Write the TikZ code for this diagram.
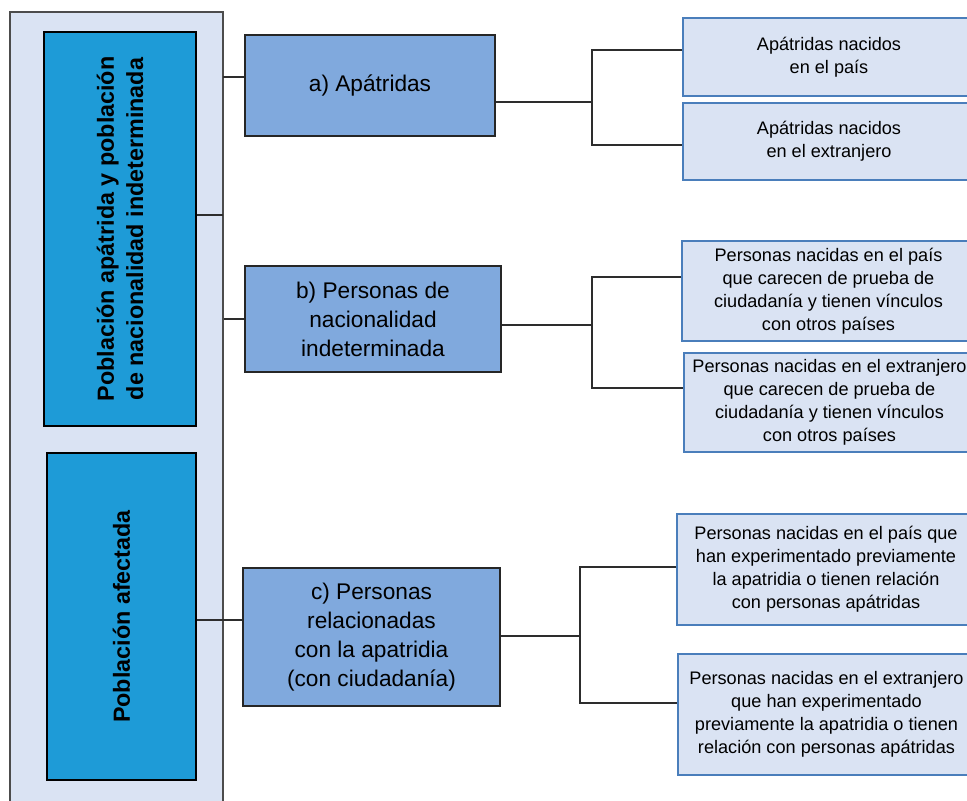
\documentclass[tikz,border=0pt]{standalone}
\usepackage{fontspec}
\setmainfont{Liberation Sans}
\definecolor{panelfill}{RGB}{218,227,243}
\definecolor{popfill}{RGB}{30,155,215}
\definecolor{midfill}{RGB}{128,169,221}
\definecolor{leafdraw}{RGB}{74,126,187}
\definecolor{linkgray}{RGB}{45,45,45}
\tikzset{
  popbox/.style={draw=black,line width=1pt,fill=popfill,rotate=90,inner sep=1pt,
    align=center,font=\bfseries\fontsize{17.5}{22}\selectfont},
  midbox/.style={draw=black!85,line width=1.1pt,fill=midfill,inner sep=1pt,
    align=center,font=\fontsize{17}{21.75}\selectfont},
  leafbox/.style={draw=leafdraw,line width=1.1pt,fill=panelfill,inner sep=1pt,
    align=center,font=\fontsize{13.6}{17.25}\selectfont},
  link/.style={draw=linkgray,line width=1.5pt}
}
\begin{document}
\begin{tikzpicture}[x=0.75pt,y=-0.75pt]
  \useasboundingbox (0,0) rectangle (967,800);
  \clip (0,0) rectangle (967,800);
  % left panel
  \node[draw=black!70,line width=1pt,fill=panelfill,minimum width=159.75pt,minimum height=606pt] (panel) at (116.5,416) {};
  \node[popbox,minimum width=295.5pt,minimum height=114pt] (pop1) at (120,229)
    {Población apátrida y población\\de nacionalidad indeterminada};
  \node[popbox,minimum width=245.25pt,minimum height=111.75pt] (pop2) at (121.5,616.5)
    {Población afectada};
  % middle
  \node[midbox,minimum width=187.5pt,minimum height=75.75pt] (apat) at (370,85.5) {a) Apátridas};
  \node[midbox,minimum width=192pt,minimum height=79.5pt] (indet) at (373,319)
    {b) Personas de\\nacionalidad\\indeterminada};
  \node[midbox,minimum width=192.75pt,minimum height=103.5pt] (relac) at (371.5,637)
    {c) Personas\\relacionadas\\con la apatridia\\(con ciudadanía)};
  % right
  \node[leafbox,minimum width=219pt,minimum height=58.5pt] (apat1) at (829,57)
    {Apátridas nacidos\\en el país};
  \node[leafbox,minimum width=219pt,minimum height=57.75pt] (apat2) at (829,141.5)
    {Apátridas nacidos\\en el extranjero};
  \node[leafbox,minimum width=219.75pt,minimum height=75pt] (indet1) at (828.5,291)
    {Personas nacidas en el país\\que carecen de prueba de\\ciudadanía y tienen vínculos\\con otros países};
  \node[leafbox,minimum width=218.25pt,minimum height=74.25pt] (indet2) at (829.5,402.5)
    {Personas nacidas en el extranjero\\que carecen de prueba de\\ciudadanía y tienen vínculos\\con otros países};
  \node[leafbox,minimum width=223.5pt,minimum height=83.25pt] (relac1) at (826,569.5)
    {Personas nacidas en el país que\\han experimentado previamente\\la apatridia o tienen relación\\con personas apátridas};
  \node[leafbox,minimum width=222.75pt,minimum height=90.75pt] (relac2) at (826.5,714.5)
    {Personas nacidas en el extranjero\\que han experimentado\\previamente la apatridia o tienen\\relación con personas apátridas};
  % joints
  \coordinate (ta) at (223,77);
  \coordinate (tp) at (223,215);
  \coordinate (tc) at (223,620);
  \coordinate (fa) at (592,102);
  \coordinate (fb) at (592,325);
  \coordinate (fc) at (580,636);
  % links
  \draw[link] (pop1.south |- tp) -- (tp);
  \draw[link] (ta) -- (apat.west |- ta);
  \draw[link] (panel.east |- indet.west) -- (indet.west);
  \draw[link] (pop2.south |- tc) -- (relac.west |- tc);
  \draw[link] (apat.east |- fa) -- (fa);
  \draw[link] ([yshift=5.25pt]apat1.west) -| (fa) |- ([yshift=-2.6pt]apat2.west);
  \draw[link] (indet.east |- fb) -- (fb);
  \draw[link] ([yshift=10.5pt]indet1.west) -| (fb) |- ([yshift=11pt]indet2.west);
  \draw[link] (relac.east |- fc) -- (fc);
  \draw[link] ([yshift=2pt]relac1.west) -| (fc) |- ([yshift=8.6pt]relac2.west);
\end{tikzpicture}
\end{document}
